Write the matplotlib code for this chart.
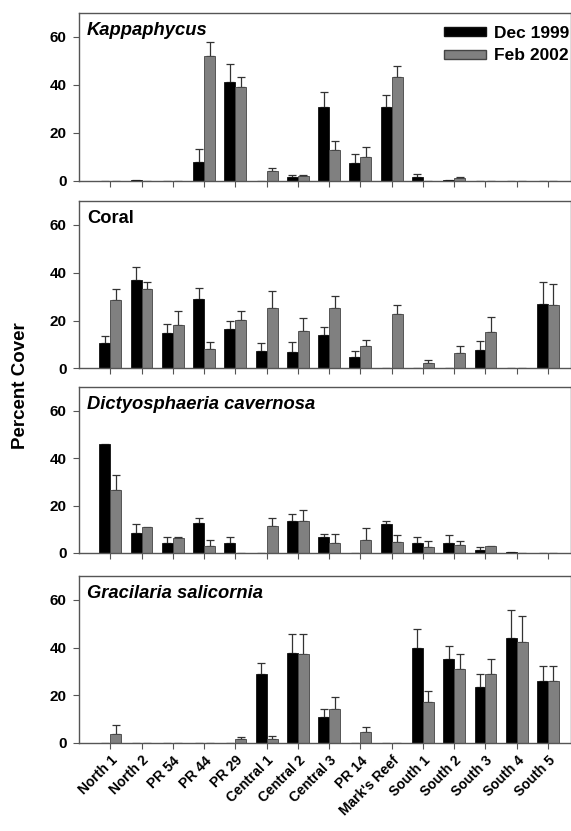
import numpy as np
import matplotlib
matplotlib.use("Agg")
import matplotlib.pyplot as plt
from matplotlib.patches import Patch

nan = np.nan
sites = ["North 1", "North 2", "PR 54", "PR 44", "PR 29", "Central 1", "Central 2",
         "Central 3", "PR 14", "Mark's Reef", "South 1", "South 2", "South 3",
         "South 4", "South 5"]

panel_titles = ["Kappaphycus", "Coral", "Dictyosphaeria cavernosa", "Gracilaria salicornia"]
title_italic = [True, False, True, True]

kap_dec = [0, 0.3, 0, 7.7, 41.0, 0, 1.3, 30.6, 7.4, 30.9, 1.3, 0.4, 0, 0, 0]
kap_dec_se = [nan, nan, nan, 5.6, 7.5, nan, 0.9, 6.4, 3.6, 4.9, 1.5, nan, nan, nan, nan]
kap_feb = [0, 0, 0, 52.0, 38.9, 3.8, 1.7, 12.6, 9.8, 43.3, 0, 1.0, 0, 0, 0]
kap_feb_se = [nan, nan, nan, 6.0, 4.4, 1.4, 0.4, 3.8, 4.2, 4.6, nan, 0.3, nan, nan, nan]

cor_dec = [10.7, 36.8, 14.7, 28.9, 16.7, 7.5, 7.0, 14.0, 5.0, 0, 0, 0, 7.8, 0, 27.1]
cor_dec_se = [2.8, 5.8, 4.0, 4.9, 3.1, 3.1, 4.2, 3.3, 2.5, nan, nan, nan, 3.6, nan, 9.0]
cor_feb = [28.6, 33.1, 18.1, 8.1, 20.2, 25.4, 15.8, 25.1, 9.3, 22.7, 2.4, 6.3, 15.1, 0, 26.5]
cor_feb_se = [4.7, 3.0, 6.0, 3.1, 3.8, 6.8, 5.4, 5.0, 2.8, 3.8, 1.2, 3.3, 6.5, nan, 8.7]

dic_dec = [45.9, 8.3, 4.2, 12.8, 4.2, 0, 13.3, 6.6, 0, 12.2, 4.2, 4.2, 1.3, 0.5, 0]
dic_dec_se = [nan, 3.9, 2.4, 1.8, 2.4, nan, 3.3, 1.4, nan, 1.4, 2.4, 3.5, 1.2, nan, nan]
dic_feb = [26.4, 11.1, 6.3, 2.8, 0, 11.5, 13.3, 4.2, 5.5, 4.6, 2.4, 3.5, 2.8, 0, 0]
dic_feb_se = [6.6, nan, 0.3, 2.8, nan, 3.1, 4.8, 3.8, 5.0, 3.1, 2.8, 1.7, nan, nan, nan]

gra_dec = [0, 0, 0, 0, 0, 28.8, 37.9, 10.9, 0, 0, 39.9, 35.1, 23.5, 44.1, 26.0]
gra_dec_se = [nan, nan, nan, nan, nan, 4.8, 7.6, 3.2, nan, nan, 7.9, 5.6, 5.5, 11.6, 6.2]
gra_feb = [3.9, 0, 0, 0, 1.8, 1.7, 37.3, 14.3, 4.5, 0, 17.3, 30.9, 28.8, 42.5, 26.0]
gra_feb_se = [3.7, nan, nan, nan, 0.7, 1.4, 8.3, 4.9, 2.2, nan, 4.7, 6.2, 6.4, 10.8, 6.2]

series = [
    (kap_dec, kap_dec_se, kap_feb, kap_feb_se),
    (cor_dec, cor_dec_se, cor_feb, cor_feb_se),
    (dic_dec, dic_dec_se, dic_feb, dic_feb_se),
    (gra_dec, gra_dec_se, gra_feb, gra_feb_se),
]
legend_labels = ["Dec 1999", "Feb 2002"]
yticks = [0, 20, 40, 60]

plt.rcParams['font.family'] = ['Liberation Sans', 'DejaVu Sans']
plt.rcParams['font.weight'] = 'bold'

W, H = 571, 831
fig = plt.figure(figsize=(W / 100, H / 100), dpi=100)

# panel pixel extents (top, bottom)
panels_px = [(13, 180.5), (201, 368.5), (387, 553), (576, 743)]
left_px, right_px = 79, 570.5

black = "#000000"
grey = "#808080"
spine_c = "#555555"
bw = 0.35
x = np.arange(len(sites))

for i, (top, bot) in enumerate(panels_px):
    ax = fig.add_axes([left_px / W, 1 - bot / H, (right_px - left_px) / W, (bot - top) / H])
    d, dse, f, fse = series[i]
    d = np.array(d, float); f = np.array(f, float)
    dse = np.array(dse, float); fse = np.array(fse, float)
    ax.bar(x - bw / 2, d, bw, color=black, edgecolor="#111111", linewidth=0.6, zorder=2)
    ax.bar(x + bw / 2, f, bw, color=grey, edgecolor="#444444", linewidth=0.6, zorder=2)
    ax.errorbar(x - bw / 2, d, yerr=[np.zeros_like(dse), dse], fmt='none',
                ecolor="#333333", elinewidth=0.9, capsize=3.2, capthick=0.9, zorder=1)
    ax.errorbar(x + bw / 2, f, yerr=[np.zeros_like(fse), fse], fmt='none',
                ecolor="#333333", elinewidth=0.9, capsize=3.2, capthick=0.9, zorder=1)
    ax.set_xlim(-1, 14.72)
    ax.set_ylim(0, 70)
    ax.set_yticks(yticks)
    ax.set_xticks(x)
    for s in ax.spines.values():
        s.set_color(spine_c)
        s.set_linewidth(1.0)
    ax.tick_params(axis='both', direction='out', color=spine_c, length=4, width=0.8,
                   labelsize=11)
    ax.tick_params(axis='y', pad=5)
    for lab in ax.get_yticklabels():
        lab.set_fontweight('bold')
    if i == 3:
        ax.set_xticklabels(sites, rotation=45, ha='right', rotation_mode='anchor',
                           fontsize=10, fontweight='bold')
    else:
        ax.set_xticklabels([])
    ax.text(0.016, 0.945, panel_titles[i], transform=ax.transAxes, ha='left', va='top',
            fontsize=13.2, fontweight='bold',
            fontstyle='italic' if title_italic[i] else 'normal')
    if i == 0:
        handles = [Patch(facecolor=black, edgecolor="#111111"),
                   Patch(facecolor=grey, edgecolor="#444444")]
        ax.legend(handles, legend_labels, loc='upper right', bbox_to_anchor=(1.005, 0.945),
                  frameon=False, prop={'weight': 'bold', 'size': 12.5},
                  handlelength=2.4, handleheight=0.45, labelspacing=0.45,
                  handletextpad=0.5, borderaxespad=0.0, borderpad=0.2)

fig.text(21 / W, 1 - 386 / H, "Percent Cover", rotation=90, ha='center', va='center',
         fontsize=13.5, fontweight='bold')

fig.savefig("out.png", dpi=100)
